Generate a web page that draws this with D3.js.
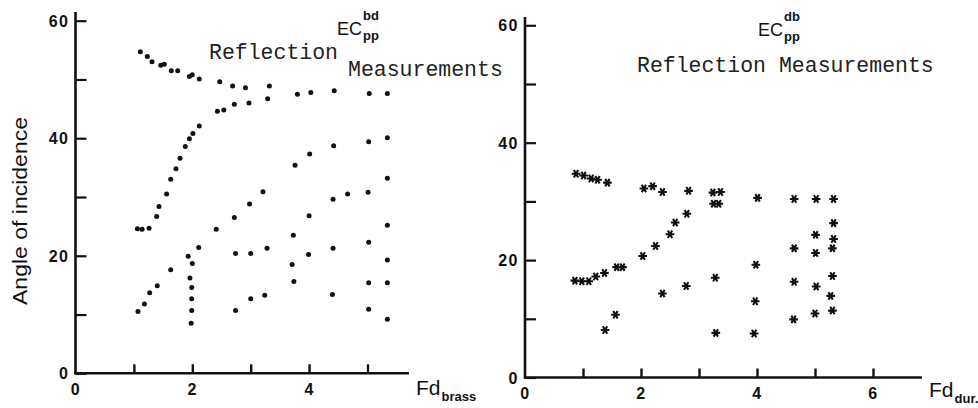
<!DOCTYPE html>
<html>
<head>
<meta charset="utf-8">
<script src="https://cdn.jsdelivr.net/npm/d3@7"></script>
<style>
  html, body { margin: 0; padding: 0; background: #fff; }
  svg { display: block; }
  .tick text { font-family: "Liberation Sans", Arial, sans-serif; font-weight: bold; font-size: 16px; fill: #111; letter-spacing: 1.5px; }
  .mono { font-family: "Liberation Mono", "Courier New", monospace; font-size: 21.5px; fill: #222; }
  .sans { font-family: "Liberation Sans", Arial, sans-serif; fill: #111; }
</style>
</head>
<body>
<svg id="chart" width="978" height="408"></svg>
<script>
// ---------------- DATA ----------------
// Left panel: EC_pp^bd, brass (dots)  [Fd_brass, angle]
const brassUpper = [[1.11,54.7],[1.23,53.9],[1.31,53.0],[1.46,52.4],[1.52,52.6],[1.64,51.5],[1.75,51.5],
  [1.95,50.5],[2.00,50.8],[2.12,50.1],[2.47,49.6],[2.69,48.9],[2.91,48.6],[3.32,48.9],[3.80,47.5],
  [4.03,47.8],[4.43,48.1],[5.03,47.6],[5.34,47.6]];
const brassRising = [[1.06,24.6],[1.14,24.5],[1.26,24.7],[1.39,26.7],[1.43,28.4],[1.56,30.5],[1.63,33.0],
  [1.72,34.8],[1.79,36.6],[1.88,38.6],[1.95,39.9],[2.01,40.8],[2.12,42.1],[2.43,44.6],[2.54,44.8],
  [2.72,45.8],[2.97,46.0],[3.29,46.7]];
const brassLower = [[1.07,10.5],[1.18,11.8],[1.27,13.7],[1.40,14.9],[1.63,17.6],[1.93,19.9],[2.00,18.7],
  [2.11,21.4],[1.96,16.2],[1.99,14.6],[1.99,12.7],[1.99,10.7],[1.98,8.5]];
const brassMiddle = [[2.41,24.5],[2.72,26.5],[2.98,28.8],[3.21,30.9],[2.74,20.4],[3.00,20.4],[3.28,21.3],
  [2.74,10.7],[3.00,12.7],[3.24,13.3]];
const brassRight = [[3.76,35.4],[4.01,37.3],[4.42,38.7],[5.02,39.4],[5.34,40.1],
  [3.73,23.5],[4.00,26.8],[4.41,29.6],[4.66,30.5],[5.01,30.8],[5.34,33.2],
  [3.71,18.5],[3.99,20.2],[4.41,21.3],[5.02,22.3],[5.34,25.2],
  [3.74,15.6],[4.40,13.4],[5.02,15.4],[5.34,15.4],
  [5.02,10.9],[5.34,19.3],[5.34,9.2]];

// Right panel: EC_pp^db, duraluminium (asterisks)  [Fd_dur, angle]
const durUpper = [[0.88,34.7],[1.01,34.4],[1.14,33.9],[1.25,33.7],[1.42,33.2],[2.05,32.2],[2.20,32.6],
  [2.37,31.6],[2.82,31.8],[3.24,31.5],[3.37,31.6],[3.25,29.6],[3.34,29.6],[4.01,30.6],[4.64,30.4],
  [5.02,30.4],[5.32,30.4]];
const durRising = [[0.86,16.5],[0.98,16.4],[1.10,16.4],[1.22,17.2],[1.37,17.8],[1.58,18.8],[1.68,18.8],
  [2.03,20.7],[2.25,22.4],[2.50,24.4],[2.59,26.4],[2.79,27.9]];
const durLower = [[1.38,8.1],[1.56,10.7],[2.37,14.3],[2.78,15.6],[3.28,17.0],[3.29,7.6],
  [3.98,19.2],[3.97,13.0],[3.95,7.5],[4.64,22.0],[4.64,16.3],[4.63,9.9],
  [5.01,24.3],[5.01,21.2],[5.02,15.5],[5.00,10.9],
  [5.32,26.3],[5.32,23.6],[5.30,22.0],[5.30,17.3],[5.27,13.9],[5.30,11.4]];

const yTicks = [0,10,20,30,40,50,60];
const yTickLabels = [0,20,40,60];
const xTicksLeft = [0,1,2,3,4,5];
const xTickLabelsLeft = [0,2,4];
const xTicksRight = [0,1,2,3,4,5,6];
const xTickLabelsRight = [0,2,4,6];

// ---------------- DRAW ----------------
const svg = d3.select("#chart");
const ink = "#111";

function panel(cfg) {
  const g = svg.append("g");
  const x = d3.scaleLinear().domain([0, cfg.xUnit]).range([cfg.x0, cfg.x0 + cfg.xUnit * cfg.xPx]);
  const y = d3.scaleLinear().domain([0, 60]).range([cfg.y0, cfg.y60]);

  // axis lines
  g.append("line").attr("x1", cfg.x0).attr("x2", cfg.x0).attr("y1", cfg.y0 + 1).attr("y2", cfg.yTop)
    .attr("stroke", ink).attr("stroke-width", 2.6);
  g.append("line").attr("x1", cfg.x0 - 1).attr("x2", cfg.xEnd).attr("y1", cfg.y0).attr("y2", cfg.y0)
    .attr("stroke", ink).attr("stroke-width", 2.6);

  // y axis: inward ticks
  const ya = g.append("g").attr("transform", `translate(${cfg.x0},0)`)
    .call(d3.axisLeft(y).tickValues(yTicks).tickSize(-11).tickPadding(6)
      .tickFormat(d => yTickLabels.includes(d) ? d : ""));
  ya.select(".domain").remove();
  ya.selectAll(".tick line").attr("stroke", ink).attr("stroke-width", 2.2);
  ya.selectAll(".tick text").attr("dy", "0.35em");

  // x axis: upward ticks
  const xa = g.append("g").attr("transform", `translate(0,${cfg.y0})`)
    .call(d3.axisBottom(x).tickValues(cfg.xTicks).tickSize(-9).tickPadding(10)
      .tickFormat(d => cfg.xLabels.includes(d) ? d : ""));
  xa.select(".domain").remove();
  xa.selectAll(".tick line").attr("stroke", ink).attr("stroke-width", 2.4)
    .attr("opacity", d => d === 0 ? 0 : 1);

  // marks
  const pts = cfg.series.flat();
  if (cfg.marker === "dot") {
    g.append("g").selectAll("circle").data(pts).join("circle")
      .attr("cx", d => x(d[0])).attr("cy", d => y(d[1])).attr("r", 2.5).attr("fill", ink);
  } else {
    const sym = d3.symbol().type(d3.symbolAsterisk).size(52);
    g.append("g").selectAll("path").data(pts).join("path")
      .attr("transform", d => `translate(${x(d[0])},${y(d[1])}) rotate(90)`)
      .attr("d", sym).attr("fill", "none").attr("stroke", ink).attr("stroke-width", 2.1);
  }
  return g;
}

panel({
  x0: 75.5, xPx: 58.4, xUnit: 5, xEnd: 409, y0: 373.3, y60: 20.7, yTop: 12,
  xTicks: xTicksLeft, xLabels: xTickLabelsLeft, series: [brassUpper, brassRising, brassLower, brassMiddle, brassRight], marker: "dot"
});
panel({
  x0: 525, xPx: 58, xUnit: 6, xEnd: 922, y0: 377.5, y60: 25.3, yTop: 17,
  xTicks: xTicksRight, xLabels: xTickLabelsRight, series: [durUpper, durRising, durLower], marker: "star"
});

// y axis title
svg.append("text").attr("class", "sans")
  .attr("transform", "translate(27,211) rotate(-90)")
  .attr("text-anchor", "middle").attr("font-size", 21).attr("textLength", 188).attr("lengthAdjust", "spacingAndGlyphs")
  .text("Angle of incidence");

// x axis titles
function fdLabel(xp, yp, sub) {
  const t = svg.append("text").attr("class", "sans").attr("x", xp).attr("y", yp).attr("font-size", 21);
  t.append("tspan").text("Fd");
  t.append("tspan").attr("font-size", 13).attr("font-weight", "bold").attr("dy", 6).attr("dx", 1).text(sub);
}
fdLabel(416, 395, "brass");
fdLabel(929, 397, "dur.");

// EC titles
function ecLabel(xp, yp, sup, sub) {
  svg.append("text").attr("class", "sans").attr("x", xp).attr("y", yp).attr("font-size", 18).text("EC");
  svg.append("text").attr("class", "sans").attr("font-weight", "bold").attr("font-size", 13)
    .attr("x", xp + 26).attr("y", yp - 15).text(sup);
  svg.append("text").attr("class", "sans").attr("font-weight", "bold").attr("font-size", 13)
    .attr("x", xp + 26).attr("y", yp + 5).text(sub);
}
ecLabel(337, 35, "bd", "pp");
ecLabel(758, 36, "db", "pp");

svg.append("text").attr("class", "mono").attr("x", 209).attr("y", 59).text("Reflection");
svg.append("text").attr("class", "mono").attr("x", 348).attr("y", 76).text("Measurements");
svg.append("text").attr("class", "mono").attr("x", 637).attr("y", 72).text("Reflection Measurements");
</script>
</body>
</html>
